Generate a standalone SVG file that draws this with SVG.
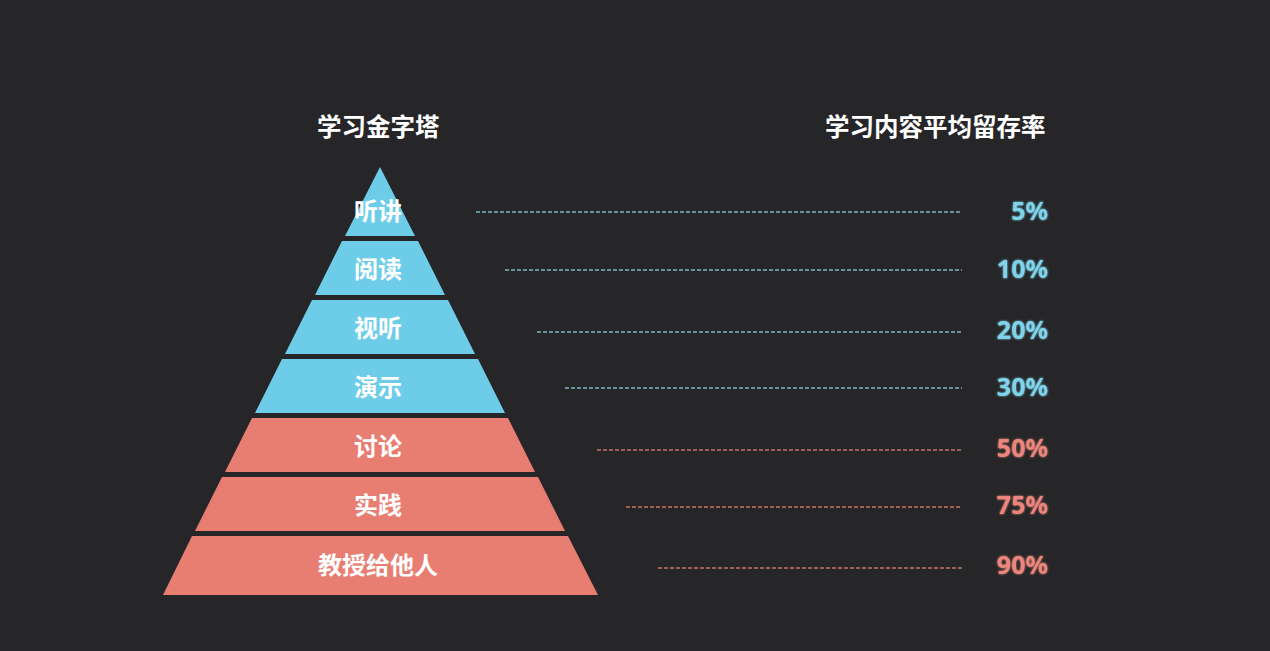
<svg xmlns="http://www.w3.org/2000/svg" width="1270" height="651" viewBox="0 0 1270 651">
  <defs>
    <style>
      .bg { fill: #262628; }
      .blue { fill: #6dcde8; }
      .red { fill: #e87d72; }
      .lbl { font-family: "Noto Sans CJK SC", "Noto Sans", sans-serif; font-weight: bold; font-size: 24px; fill: #ffffff; text-anchor: middle; }
      .hdr { font-family: "Noto Sans CJK SC", "Noto Sans", sans-serif; font-weight: bold; font-size: 24.5px; fill: #ffffff; }
      .pct { font-family: "Noto Sans", "Noto Sans CJK SC", sans-serif; font-weight: bold; font-size: 25px; text-anchor: end; filter: url(#glow); }
      .pb { fill: #7fd3ea; }
      .pr { fill: #ec867c; }
      .dl { stroke-width: 1.5; stroke-dasharray: 4 2; fill: none; }
      .db { stroke: #7fb5c2; }
      .dr { stroke: #c9736a; }
    </style>
    <filter id="glow" x="-20%" y="-30%" width="140%" height="160%">
      <feGaussianBlur in="SourceGraphic" stdDeviation="1.2" result="b"/>
      <feMerge>
        <feMergeNode in="b"/>
        <feMergeNode in="SourceGraphic"/>
      </feMerge>
    </filter>
  </defs>
  <rect class="bg" x="0" y="0" width="1270" height="651"/>

  <text class="hdr" x="317" y="136">学习金字塔</text>
  <text class="hdr" x="825" y="136">学习内容平均留存率</text>

  <g id="connectors">
    <line class="dl db" x1="476" y1="212" x2="962" y2="212"/>
    <line class="dl db" x1="505" y1="270" x2="962" y2="270"/>
    <line class="dl db" x1="537" y1="332" x2="962" y2="332"/>
    <line class="dl db" x1="565" y1="388" x2="962" y2="388"/>
    <line class="dl dr" x1="597" y1="450" x2="962" y2="450"/>
    <line class="dl dr" x1="626" y1="507" x2="962" y2="507"/>
    <line class="dl dr" x1="658" y1="568" x2="962" y2="568"/>
  </g>

  <g id="level-1">
    <polygon class="blue" points="380,167 415,236 345,236"/>
    <text class="lbl" x="378" y="220">听讲</text>
  </g>
  <g id="level-2">
    <polygon class="blue" points="342,241 418,241 445,295 315,295"/>
    <text class="lbl" x="378" y="278">阅读</text>
  </g>
  <g id="level-3">
    <polygon class="blue" points="312,300 448,300 475,354 285,354"/>
    <text class="lbl" x="378" y="337">视听</text>
  </g>
  <g id="level-4">
    <polygon class="blue" points="282,359 478,359 505,413 255,413"/>
    <text class="lbl" x="378" y="396">演示</text>
  </g>
  <g id="level-5">
    <polygon class="red" points="252,418 508,418 535,472 225,472"/>
    <text class="lbl" x="378" y="455">讨论</text>
  </g>
  <g id="level-6">
    <polygon class="red" points="222,477 538,477 565,531 195,531"/>
    <text class="lbl" x="378" y="514">实践</text>
  </g>
  <g id="level-7">
    <polygon class="red" points="192,536 568,536 598,595 163,595"/>
    <text class="lbl" x="378" y="574">教授给他人</text>
  </g>

  <g id="pct-1"><text class="pct pb" x="1048" y="220">5%</text></g>
  <g id="pct-2"><text class="pct pb" x="1048" y="278">10%</text></g>
  <g id="pct-3"><text class="pct pb" x="1048" y="339">20%</text></g>
  <g id="pct-4"><text class="pct pb" x="1048" y="396">30%</text></g>
  <g id="pct-5"><text class="pct pr" x="1048" y="457">50%</text></g>
  <g id="pct-6"><text class="pct pr" x="1048" y="514">75%</text></g>
  <g id="pct-7"><text class="pct pr" x="1048" y="574">90%</text></g>
</svg>
